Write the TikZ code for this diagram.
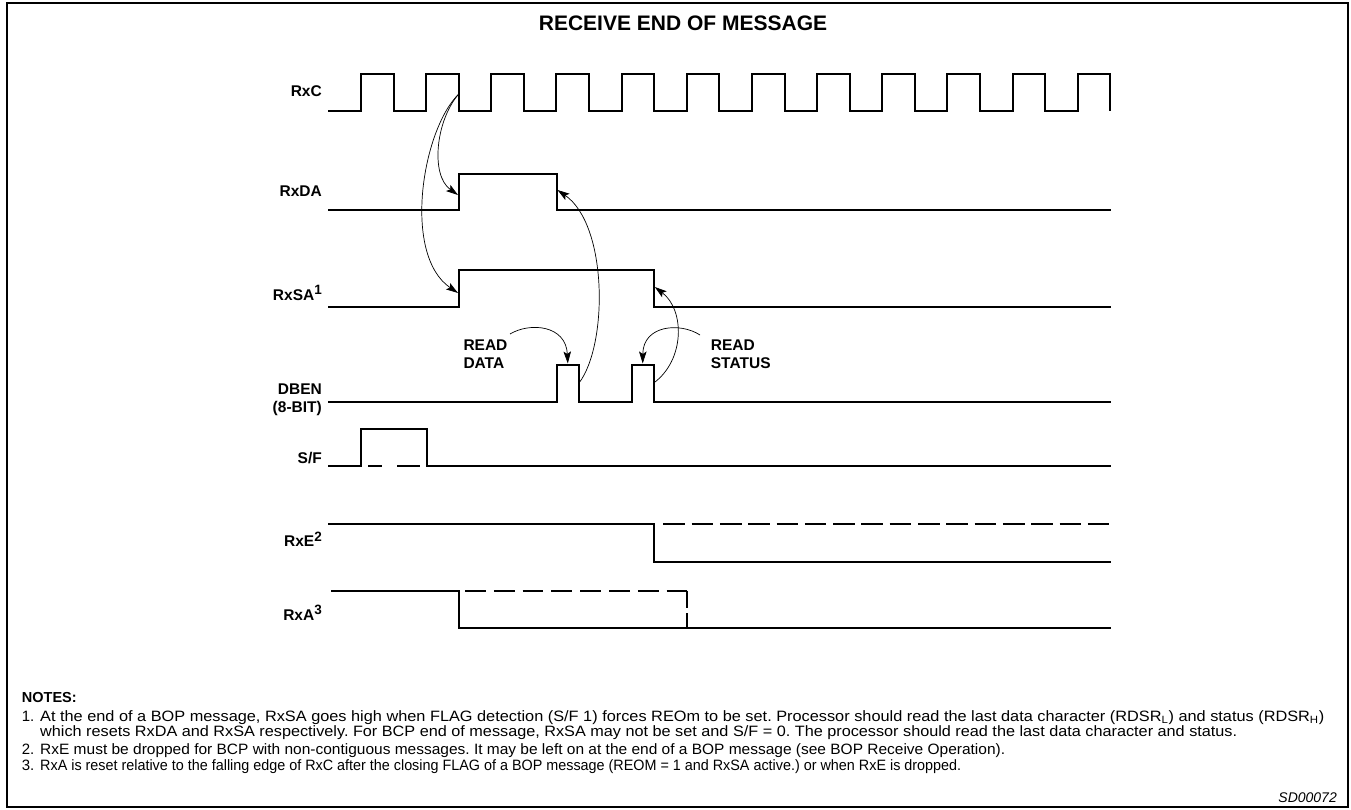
\documentclass[tikz,border=0pt]{standalone}
\usepackage{fontspec}
\usepackage{graphicx}
\setmainfont{Liberation Sans}
\usetikzlibrary{arrows.meta}
\frenchspacing
\begin{document}
\begin{tikzpicture}[x=1pt,y=-1pt,
  sig/.style={line width=2pt, line join=miter},
  lab/.style={font=\fontsize{15.5}{17}\selectfont\bfseries, inner sep=0pt, anchor=base east},
  rlab/.style={font=\fontsize{15.5}{17}\selectfont\bfseries, inner sep=0pt, anchor=base west},
  arr/.style={line width=0.7pt, -{Stealth[length=12pt,width=7.5pt,inset=2.5pt]}},
  note/.style={font=\fontsize{15}{16}\selectfont, inner sep=0pt, anchor=base west},
]
\useasboundingbox (0,0) rectangle (1351,810);
\draw[line width=1.5pt] (7,3) rectangle (1348,807);

% title
\node[font=\fontsize{21}{22}\selectfont\bfseries, inner sep=0pt] (title) at (683,23) {RECEIVE END OF MESSAGE};

% labels
\node[lab] (lrxc) at (322,96.5) {RxC};
\node[lab] (lrxda) at (322,197) {RxDA};
\node[lab] (lrxsa) at (322,300) {RxSA\raisebox{5.5pt}{\fontsize{13.5}{13.5}\selectfont 1}};
\node[lab] (ldben) at (322,394.5) {DBEN};
\node[lab] (ldben2) at (322,412) {(8-BIT)};
\node[lab] (lsf) at (322,463) {S/F};
\node[lab] (lrxe) at (322,546.5) {RxE\raisebox{5.5pt}{\fontsize{13.5}{13.5}\selectfont 2}};
\node[lab] (lrxa) at (322,620) {RxA\raisebox{5.5pt}{\fontsize{13.5}{13.5}\selectfont 3}};

\node[rlab] (rd1) at (463.3,350.5) {READ};
\node[rlab] (rd2) at (463.3,368) {DATA};
\node[rlab] (rs1) at (710.7,350.5) {READ};
\node[rlab] (rs2) at (710.7,368) {STATUS};

% RxC
\draw[sig] (328,111) foreach \i in {0,...,11} {
  -- ({361+65.15*\i},111) -- ({361+65.15*\i},74) -- ({393.6+65.15*\i},74) -- ({393.6+65.15*\i},111) };
% RxDA
\draw[sig] (328,210) -- (458.75,210) -- (458.75,174) -- (556.7,174) -- (556.7,210) -- (1111,210);
% RxSA
\draw[sig] (328,306.7) -- (458.75,306.7) -- (458.75,270) -- (654,270) -- (654,306.7) -- (1111,306.7);
% DBEN
\draw[sig] (328,401.7) -- (556.7,401.7) -- (556.7,365) -- (579,365) -- (579,401.7) -- (631.7,401.7) -- (631.7,365) -- (653.7,365) -- (653.7,401.7) -- (1111,401.7);
% S/F
\draw[sig] (328,465.7) -- (361,465.7) -- (361,429) -- (426.7,429) -- (426.7,465.7) -- (1111,465.7);
\draw[sig] (368,465.7) -- (382,465.7);
\draw[sig] (397,465.7) -- (420,465.7);
% RxE
\draw[sig] (328,524.3) -- (654,524.3) -- (654,561.7) -- (1111,561.7);
\draw[sig, dash pattern=on 21.6pt off 6.7pt] (663.3,524.3) -- (1110.5,524.3);
% RxA
\draw[sig] (331,590.7) -- (458.5,590.7) -- (458.5,628.3) -- (1111,628.3);
\draw[sig, dash pattern=on 20.8pt off 8pt] (465,590.7) -- (687.3,590.7);
\draw[sig] (687.3,590.7) -- (687.3,608);
\draw[sig] (687.3,613) -- (687.3,628.3);

% arrow coordinates
\coordinate (ckf) at (458.75,94);
\coordinate (darise) at (458,195);
\coordinate (sarise) at (458,293);
\coordinate (p1f) at (579,383);
\coordinate (dafall) at (557.5,190);
\coordinate (p2f) at (653.7,383);
\coordinate (safall) at (654.8,287);
\coordinate (rd) at (510,334);
\coordinate (p1top) at (567.8,363.5);
\coordinate (rs) at (700,335);
\coordinate (p2top) at (642.7,363.5);

\draw[arr] (ckf) .. controls (436,120) and (430,175) .. (darise);
\draw[arr] (ckf) .. controls (422,130) and (402,255) .. (sarise);
\draw[arr] (p1f) .. controls (608,345) and (608,225) .. (dafall);
\draw[arr] (p2f) .. controls (685,360) and (685,310) .. (safall);
\draw[arr] (rd) .. controls (530,322) and (566,325) .. (p1top);
\draw[arr] (rs) .. controls (680,322) and (643,325) .. (p2top);

% notes
\node[note, font=\fontsize{14.5}{16}\selectfont\bfseries] (notes) at (21.7,702.5) {NOTES:};
\node[note] (n1) at (21.7,721) {1.};
\node[note] (t1a) at (40,721) {\resizebox{1284pt}{\height}{At the end of a BOP message, RxSA goes high when FLAG detection (S/F 1) forces REOm to be set. Processor should read the last data character (RDSR\textsubscript{L}) and status (RDSR\textsubscript{H})}};
\node[note] (t1b) at (40,736.5) {\resizebox{1197pt}{\height}{which resets RxDA and RxSA respectively. For BCP end of message, RxSA may not be set and S/F = 0. The processor should read the last data character and status.}};
\node[note] (n2) at (21.7,754.5) {2.};
\node[note] (t2) at (40,754.5) {\resizebox{965pt}{\height}{RxE must be dropped for BCP with non-contiguous messages. It may be left on at the end of a BOP message (see BOP Receive Operation).}};
\node[note] (n3) at (21.7,770.5) {3.};
\node[note] (t3) at (40,770.5) {\resizebox{921pt}{\height}{RxA is reset relative to the falling edge of RxC after the closing FLAG of a BOP message (REOM = 1 and RxSA active.) or when RxE is dropped.}};
\node[font=\fontsize{14}{16}\selectfont\itshape, inner sep=0pt, anchor=base east] (sd) at (1337,802) {SD00072};
\end{tikzpicture}
\end{document}
